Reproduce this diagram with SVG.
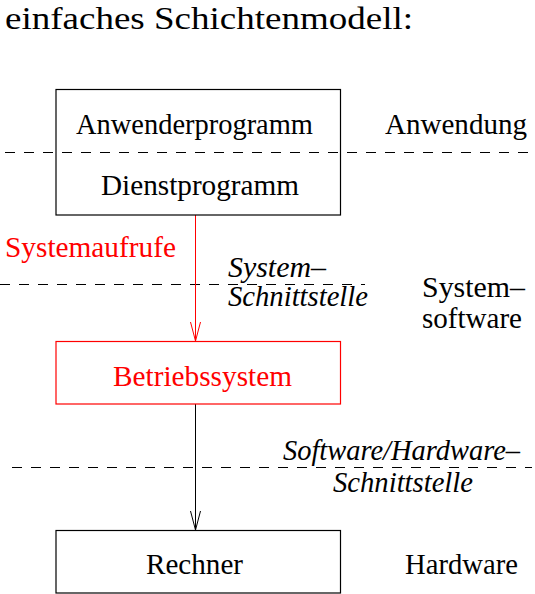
<svg xmlns="http://www.w3.org/2000/svg" width="535" height="594" viewBox="0 0 535 594">
<style>
text{font-family:"Liberation Serif","Times New Roman",serif;font-size:28.5px;fill:#000}
.it{font-style:italic}
.red{fill:#ff0000}
.box{fill:none;stroke:#000;stroke-width:1.2}
.rbox{fill:none;stroke:#ff0000;stroke-width:1.2}
.dash{stroke:#000;stroke-width:1;stroke-dasharray:10 9;fill:none}
.ln{stroke:#000;stroke-width:1;fill:none}
.rln{stroke:#ff0000;stroke-width:1;fill:none}
</style>
<rect width="535" height="594" fill="#fff"/>
<text x="5" y="29" style="font-size:32px" textLength="408" lengthAdjust="spacingAndGlyphs">einfaches Schichtenmodell:</text>
<g id="layers">
<line class="dash" x1="5" y1="152.5" x2="532" y2="152.5"/>
<line class="dash" x1="0" y1="284.5" x2="365" y2="284.5"/>
<line class="dash" x1="12" y1="467.5" x2="532" y2="467.5"/>
</g>
<g id="connectors">
<line class="rln" x1="195.5" y1="215" x2="195.5" y2="341"/>
<polyline class="rln" points="190.5,322 195.5,341 200.5,322" stroke-width="1.5"/>
<line class="ln" x1="195.5" y1="404" x2="195.5" y2="530"/>
<polyline class="ln" points="190.5,511 195.5,530 200.5,511" stroke-width="1.5"/>
</g>
<g id="anwender">
<rect class="box" x="56" y="89.5" width="284.5" height="125.5"/>
<text x="76" y="134" textLength="237" lengthAdjust="spacingAndGlyphs">Anwenderprogramm</text>
<text x="101" y="195" textLength="198" lengthAdjust="spacingAndGlyphs">Dienstprogramm</text>
</g>
<g id="betriebssystem">
<rect class="rbox" x="56" y="341.5" width="284.5" height="62.5"/>
<text class="red" x="113" y="386" textLength="179" lengthAdjust="spacingAndGlyphs">Betriebssystem</text>
</g>
<g id="rechner">
<rect class="box" x="56" y="530.5" width="284.5" height="62.5"/>
<text x="146" y="574" textLength="97" lengthAdjust="spacingAndGlyphs">Rechner</text>
</g>
<g id="labels">
<text x="385" y="134" textLength="142" lengthAdjust="spacingAndGlyphs">Anwendung</text>
<text class="red" x="5" y="257" textLength="171" lengthAdjust="spacingAndGlyphs">Systemaufrufe</text>
<text class="it" x="228" y="277" textLength="98" lengthAdjust="spacingAndGlyphs">System–</text>
<text class="it" x="228" y="306" textLength="140" lengthAdjust="spacingAndGlyphs">Schnittstelle</text>
<text x="422" y="297" textLength="103" lengthAdjust="spacingAndGlyphs">System–</text>
<text x="422" y="328" textLength="100" lengthAdjust="spacingAndGlyphs">software</text>
<text class="it" x="283" y="460" textLength="237" lengthAdjust="spacingAndGlyphs">Software/Hardware–</text>
<text class="it" x="333" y="492" textLength="140" lengthAdjust="spacingAndGlyphs">Schnittstelle</text>
<text x="405" y="574" textLength="113" lengthAdjust="spacingAndGlyphs">Hardware</text>
</g>
</svg>
